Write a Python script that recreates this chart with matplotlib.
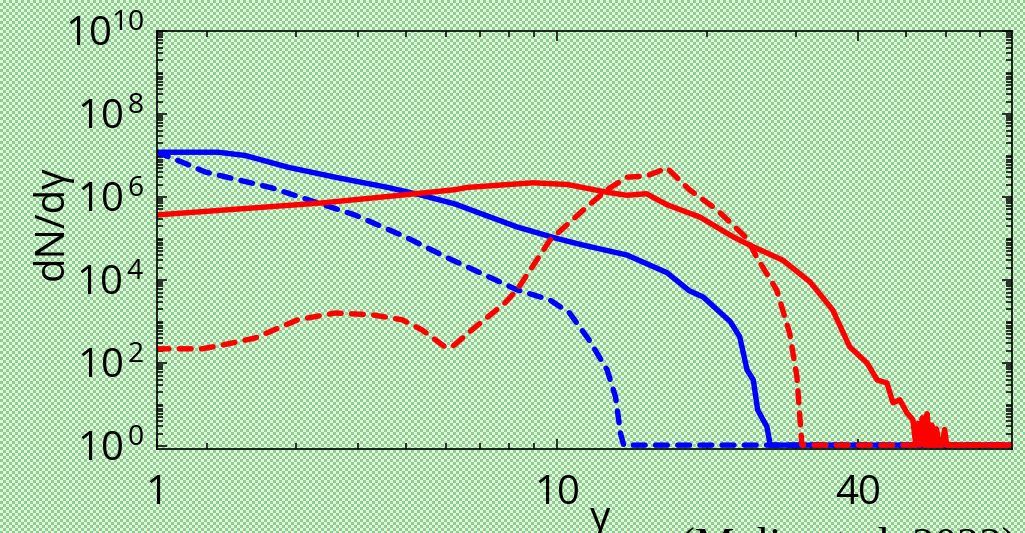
import numpy as np
import matplotlib
matplotlib.use("Agg")
import matplotlib.pyplot as plt
from matplotlib.ticker import FixedLocator, NullFormatter

plt.rcParams['font.family'] = ['Open Sans', 'DejaVu Sans']
plt.rcParams['mathtext.fontset'] = 'custom'
plt.rcParams['mathtext.rm'] = 'Open Sans'
plt.rcParams['mathtext.it'] = 'Open Sans'

# ---------------- data ----------------
blue_solid_g = [1.585, 2.10, 2.38, 2.90, 3.65, 4.59, 5.37, 6.25, 8.32, 10.0, 11.3, 13.8,
                16.6, 18.4, 19.6, 22.2, 23.2, 24.0, 24.7, 25.2, 26.3, 26.7, 85.0]
blue_solid_n = [1.2e7, 1.2e7, 1.0e7, 5.2e6, 2.9e6, 1.7e6, 1.1e6, 6.8e5, 1.9e5, 1.0e5, 6.9e4, 4.0e4,
                1.5e4, 5.5e3, 3.9e3, 1.0e3, 4.3e2, 68, 39, 7.4, 2.9, 1.05, 1.05]

blue_dash_g = [1.585, 1.78, 1.98, 2.30, 2.69, 3.28, 3.94, 4.97, 6.05, 8.32, 9.68, 10.6,
               11.6, 12.6, 13.1, 13.4, 13.6, 85.0]
blue_dash_n = [1.2e7, 6.9e6, 4.0e6, 2.6e6, 1.66e6, 7.6e5, 3.7e5, 1.1e5, 3.4e4, 5.8e3, 3.3e3, 1.6e3,
               355, 68, 15, 2.0, 1.05, 1.05]

red_solid_g = [1.585, 3.39, 4.85, 6.25, 6.61, 8.95, 10.5, 12.6, 13.8, 15.1, 16.6, 19.3, 22.5,
               24.3, 28.3, 32.1, 35.6, 38.5, 41.7, 43.7, 45.7, 47.0, 48.5, 50.1, 51.5, 52.2,
               52.7, 53.2, 53.8, 54.3, 55.0, 55.6, 56.2, 56.8, 57.4, 58.2, 59.0, 59.6, 60.2, 85.0]
red_solid_n = [3.7e5, 7.2e5, 1.1e6, 1.5e6, 1.7e6, 2.2e6, 2.0e6, 1.3e6, 1.1e6, 1.2e6, 6.5e5, 3.3e5, 1.1e5,
               6.9e4, 3.0e4, 8.9e3, 1.9e3, 2.45e2, 1.0e2, 39, 33, 11, 13, 6.3, 4.3, 1.05,
               3.5, 1.05, 4.8, 1.05, 6.0, 1.05, 3.2, 1.05, 2.6, 1.05, 1.05, 2.5, 1.05, 1.05]

red_dash_g = [1.585, 1.95, 2.14, 2.49, 3.03, 3.60, 4.27, 4.90, 5.37, 5.97, 6.17, 6.76, 7.87,
              8.32, 9.68, 11.3, 12.6, 13.8, 15.1, 16.6, 18.4, 20.9, 24.0, 25.1, 27.5, 29.2,
              30.2, 30.6, 30.9, 85.0]
red_dash_n = [2.2e2, 2.2e2, 2.7e2, 4.0e2, 1.1e3, 1.6e3, 1.45e3, 1.1e3, 6.3e2, 2.45e2, 2.45e2, 6.3e2, 2.8e3,
              5.8e3, 9.1e4, 4.9e5, 1.5e6, 3.0e6, 3.2e6, 5.0e6, 1.5e6, 4.9e5, 1.0e5, 3.5e4, 5.8e3, 5.2e2,
              46, 5.0, 1.05, 1.05]

x_tick_vals = [1.585, 10, 40]
x_tick_labels = ['1', '10', '40']
y_tick_vals = [1e0, 1e2, 1e4, 1e6, 1e8, 1e10]
y_tick_labels = [r'$\mathregular{10^{\,0}}$', r'$\mathregular{10^{\,2}}$', r'$\mathregular{10^{\,4}}$',
                 r'$\mathregular{10^{\,6}}$', r'$\mathregular{10^{\,8}}$', r'$\mathregular{10^{10}}$']

# ---------------- figure ----------------
W, H = 1025, 533
fig = plt.figure(figsize=(W / 100, H / 100), dpi=100)

# checkered green background
bg = fig.add_axes([0, 0, 1, 1], zorder=-10)
yy, xx = np.mgrid[0:H, 0:W]
chk = ((yy // 3 + xx // 3) % 2).astype(float)
c1 = np.array([140, 208, 140]) / 255.0
c2 = np.array([226, 246, 226]) / 255.0
img = chk[..., None] * c1 + (1 - chk[..., None]) * c2
bg.imshow(img, interpolation='nearest', aspect='auto')
bg.axis('off')

ax = fig.add_axes([157 / W, 1 - 449 / H, (1012 - 157) / W, (449 - 31) / H])
ax.set_facecolor('none')

lw = 3.9
ax.plot(blue_solid_g, blue_solid_n, color='#0000ff', lw=lw, solid_capstyle='round')
ax.plot(blue_dash_g, blue_dash_n, color='#0000ff', lw=lw, dashes=(2.2, 1.9), dash_capstyle='round')
ax.plot(red_solid_g, red_solid_n, color='#ff0000', lw=lw, solid_capstyle='round')
ax.plot(red_dash_g, red_dash_n, color='#ff0000', lw=lw, dashes=(2.2, 1.9), dash_capstyle='round')

ax.set_xscale('log')
ax.set_yscale('log')
ax.set_xlim(1.585, 81.3)
ax.set_ylim(10 ** -0.072, 1e10)

ax.xaxis.set_major_locator(FixedLocator(x_tick_vals))
ax.set_xticklabels(x_tick_labels)
ax.xaxis.set_minor_locator(FixedLocator([2, 3, 4, 5, 6, 7, 8, 9, 20, 30, 50, 60, 70]))
ax.xaxis.set_minor_formatter(NullFormatter())

ax.yaxis.set_major_locator(FixedLocator(y_tick_vals))
ax.set_yticklabels(y_tick_labels)
yminor = [m * 10.0 ** k for k in range(0, 10) for m in range(1, 10) if not (m == 1 and k % 2 == 0)]
ax.yaxis.set_minor_locator(FixedLocator(yminor))
ax.yaxis.set_minor_formatter(NullFormatter())

ax.tick_params(which='both', direction='in', top=True, right=True, width=1.1, colors='black')
ax.tick_params(which='major', length=7)
ax.tick_params(which='minor', length=4)
ax.tick_params(axis='y', which='major', labelsize=29, pad=9)
ax.tick_params(axis='x', which='major', labelsize=29, pad=18)
for s in ax.spines.values():
    s.set_linewidth(1.2)

fig.text(52 / W, 1 - 223 / H, 'dN/dγ', rotation=90, ha='center', va='center', fontsize=29)
fig.text(600 / W, 1 - 500 / H, 'γ', ha='center', va='top', fontsize=29)
fig.text(680 / W, 1 - 558 / H, '(Mulin et al. 2023)', ha='left', va='baseline',
         fontsize=32, family='Liberation Serif')

fig.savefig('out.png', dpi=100)
